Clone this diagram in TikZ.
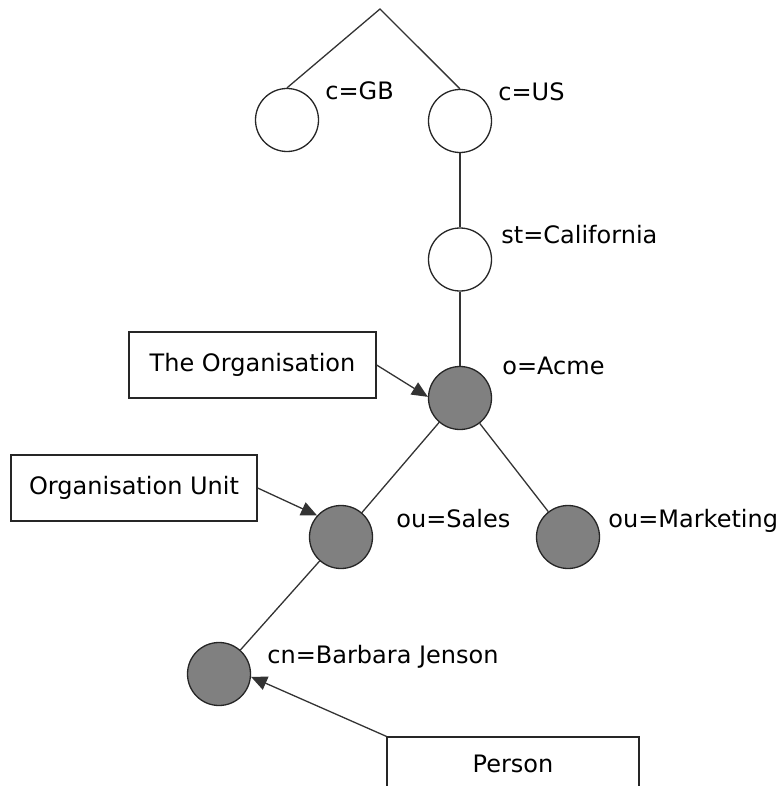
\documentclass[tikz,border=0pt]{standalone}
\usepackage{fontspec}
\setmainfont{DejaVu Sans}
\usetikzlibrary{arrows.meta}
\begin{document}
\begin{tikzpicture}[x=0.5pt,y=-0.5pt,
  every node/.style={font=\fontsize{12}{14}\selectfont},
  entry/.style={circle,draw=black!85,line width=0.65pt,minimum size=31.5pt,inner sep=0pt},
  light/.style={entry,fill=white},
  dark/.style={entry,fill=black!50},
  lbl/.style={anchor=base west,inner sep=0pt},
  tag/.style={draw=black!85,line width=0.65pt,fill=white,inner sep=0pt},
  link/.style={draw=black!80,line width=0.65pt},
  pointer/.style={link,-{Triangle[length=8pt,width=7pt]}}]
\useasboundingbox (0,0) rectangle (783,786);
\coordinate (root) at (380,9);
\node[light] (gb) at (287,120) {};
\node[light] (us) at (460,121) {};
\node[light] (ca) at (460,259.5) {};
\node[dark] (acme) at (460,398) {};
\node[dark] (sales) at (341,537) {};
\node[dark] (mkt) at (568,537) {};
\node[dark] (bj) at (219,674) {};
\node[lbl] (lgb) at (325,100) {c=GB};
\node[lbl] (lus) at (498,101) {c=US};
\node[lbl] (lca) at (501,243) {st=California};
\node[lbl] (lacme) at (502,374) {o=Acme};
\node[lbl] (lsales) at (396,527.5) {ou=Sales};
\node[lbl] (lmkt) at (608,527) {ou=Marketing};
\node[lbl] (lbj) at (267,663) {cn=Barbara Jenson};
\node[tag,minimum width=123.5pt,minimum height=33pt] (torg) at (252.5,365) {The Organisation};
\node[tag,minimum width=123pt,minimum height=33pt] (tou) at (134,488) {Organisation Unit};
\node[tag,minimum width=126pt,minimum height=27pt] (tper) at (513,764) {Person};
\draw[link] (gb.north) -- (root) -- (us.north);
\draw[link] (us) -- (ca);
\draw[link] (ca) -- (acme);
\draw[link] (acme) -- (sales);
\draw[link] (acme) -- (mkt);
\draw[link] (sales) -- (bj);
\draw[pointer] (torg.east) -- (acme.178);
\draw[pointer] (tou.east) -- (sales.138);
\draw[pointer] (tper.north west) -- (bj.-5);
\end{tikzpicture}
\end{document}
